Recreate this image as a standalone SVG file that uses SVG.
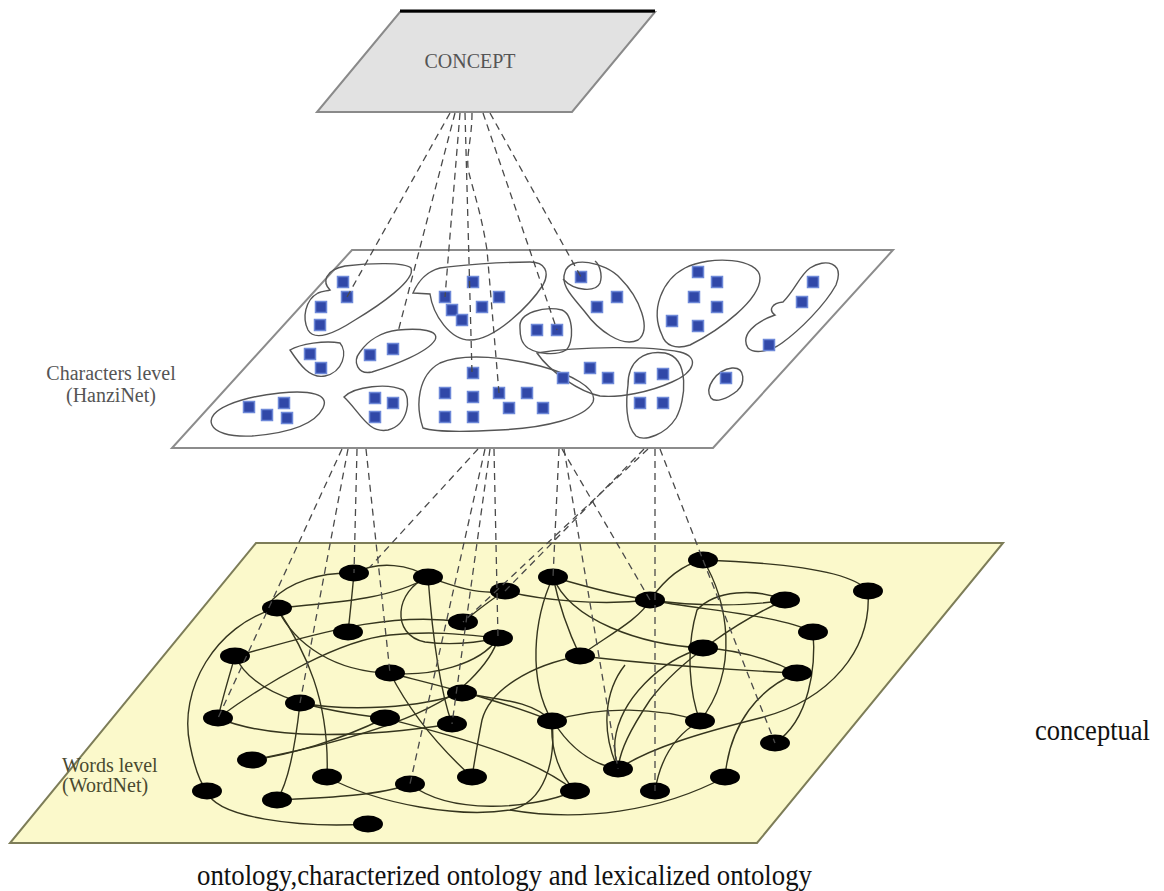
<svg xmlns="http://www.w3.org/2000/svg" width="1164" height="891" viewBox="0 0 1164 891">
<style>
.dash{fill:none;stroke:#4a4a4a;stroke-width:1.3;stroke-dasharray:7 5}
.link{fill:none;stroke:#35351e;stroke-width:1.4}
.blob{fill:none;stroke:#555;stroke-width:1.4}
.sq{fill:#3148a8;stroke:#6d88d8;stroke-width:1.5}
.node{fill:#000}
.lbl{font-family:"Liberation Serif","Times New Roman",serif;font-size:20px}
</style>
<defs>
<rect id="s" x="-5.5" y="-5.5" width="11" height="11"/>
<ellipse id="n" rx="15" ry="8.5"/>
</defs>
<rect width="1164" height="891" fill="#fff"/>

<g id="words-level">
<polygon points="256,543 1003,543 757,843 10,843" fill="#fbf9cb" stroke="#7d7d58" stroke-width="2"/>
<g id="word-links">
<path class="link" d="M354,573 C352,595 350,615 348,632"/>
<path class="link" d="M277,608 C215,625 178,690 190,745 C195,770 200,783 207,791"/>
<path class="link" d="M272,600 C290,582 320,572 354,573"/>
<path class="link" d="M277,608 C330,603 390,600 428,577"/>
<path class="link" d="M428,577 C395,590 390,635 425,642 C455,646 480,642 498,638"/>
<path class="link" d="M428,577 C432,630 440,690 452,724"/>
<path class="link" d="M277,608 C295,645 335,672 390,673"/>
<path class="link" d="M277,608 C305,650 330,700 327,777"/>
<path class="link" d="M235,656 C228,680 222,700 218,718"/>
<path class="link" d="M235,656 C255,700 330,712 385,718"/>
<path class="link" d="M218,718 C270,680 340,640 390,635 C440,630 475,636 498,638"/>
<path class="link" d="M218,718 C270,740 360,738 452,724"/>
<path class="link" d="M300,703 C296,740 290,780 277,800"/>
<path class="link" d="M300,703 C350,712 420,708 462,693"/>
<path class="link" d="M390,673 C410,712 440,748 472,777"/>
<path class="link" d="M390,673 C440,686 500,700 552,721"/>
<path class="link" d="M252,760 C330,745 430,720 470,680 C488,662 495,650 498,638"/>
<path class="link" d="M207,791 C215,818 300,828 368,824"/>
<path class="link" d="M277,800 C320,798 380,796 410,784"/>
<path class="link" d="M327,777 C380,805 460,818 510,810 C545,803 556,760 552,721"/>
<path class="link" d="M553,577 C533,620 528,680 552,721"/>
<path class="link" d="M553,577 C560,610 570,635 580,656"/>
<path class="link" d="M463,622 C478,610 490,600 505,591"/>
<path class="link" d="M498,638 C480,665 430,677 390,673"/>
<path class="link" d="M505,591 C540,600 600,606 650,600"/>
<path class="link" d="M580,656 C530,665 490,690 482,720 C477,745 474,765 472,777"/>
<path class="link" d="M552,721 C550,750 560,775 575,791"/>
<path class="link" d="M575,791 C530,810 450,815 410,784"/>
<path class="link" d="M428,577 C450,585 480,596 505,591"/>
<path class="link" d="M354,573 C380,560 410,565 428,577"/>
<path class="link" d="M252,760 C290,755 340,740 385,718"/>
<path class="link" d="M385,718 C450,735 530,755 575,791"/>
<path class="link" d="M462,693 C500,700 530,700 552,721"/>
<path class="link" d="M235,656 C300,640 380,610 463,622"/>
<path class="link" d="M703,560 C760,562 850,568 868,591"/>
<path class="link" d="M868,591 C872,650 830,700 760,718 C700,733 650,748 618,769"/>
<path class="link" d="M703,560 C680,565 662,583 650,600"/>
<path class="link" d="M703,560 C728,600 740,670 700,721"/>
<path class="link" d="M650,600 C700,607 750,606 785,600"/>
<path class="link" d="M650,600 C700,610 780,615 813,632"/>
<path class="link" d="M785,600 C755,588 715,590 697,610 C685,650 690,695 700,721"/>
<path class="link" d="M813,632 C816,665 810,720 775,743"/>
<path class="link" d="M703,648 C660,660 620,700 615,740 C614,752 616,762 618,769"/>
<path class="link" d="M703,648 C740,650 772,660 797,673"/>
<path class="link" d="M580,656 C650,664 730,670 797,673"/>
<path class="link" d="M797,673 C760,688 730,722 725,777"/>
<path class="link" d="M700,721 C675,735 660,760 655,791"/>
<path class="link" d="M700,721 C660,708 600,705 553,721"/>
<path class="link" d="M618,769 C590,764 568,745 553,721"/>
<path class="link" d="M510,810 C580,822 660,812 725,777"/>
<path class="link" d="M618,769 C600,730 605,690 625,665"/>
<path class="link" d="M553,577 C570,620 640,645 703,648"/>
<path class="link" d="M553,577 C590,588 620,596 650,600"/>
<path class="link" d="M785,600 C740,620 680,660 650,700 C630,730 620,750 618,769"/>
<path class="link" d="M580,656 C600,640 640,620 650,600"/>
</g>
<g id="word-nodes">
<use href="#n" class="node" x="354" y="573"/>
<use href="#n" class="node" x="428" y="577"/>
<use href="#n" class="node" x="553" y="577"/>
<use href="#n" class="node" x="703" y="560"/>
<use href="#n" class="node" x="505" y="591"/>
<use href="#n" class="node" x="868" y="591"/>
<use href="#n" class="node" x="277" y="608"/>
<use href="#n" class="node" x="463" y="622"/>
<use href="#n" class="node" x="650" y="600"/>
<use href="#n" class="node" x="785" y="600"/>
<use href="#n" class="node" x="348" y="632"/>
<use href="#n" class="node" x="498" y="638"/>
<use href="#n" class="node" x="813" y="632"/>
<use href="#n" class="node" x="235" y="656"/>
<use href="#n" class="node" x="580" y="656"/>
<use href="#n" class="node" x="703" y="648"/>
<use href="#n" class="node" x="390" y="673"/>
<use href="#n" class="node" x="797" y="673"/>
<use href="#n" class="node" x="462" y="693"/>
<use href="#n" class="node" x="218" y="718"/>
<use href="#n" class="node" x="300" y="703"/>
<use href="#n" class="node" x="385" y="718"/>
<use href="#n" class="node" x="452" y="724"/>
<use href="#n" class="node" x="552" y="721"/>
<use href="#n" class="node" x="700" y="721"/>
<use href="#n" class="node" x="775" y="743"/>
<use href="#n" class="node" x="252" y="760"/>
<use href="#n" class="node" x="327" y="777"/>
<use href="#n" class="node" x="472" y="777"/>
<use href="#n" class="node" x="410" y="784"/>
<use href="#n" class="node" x="618" y="769"/>
<use href="#n" class="node" x="725" y="777"/>
<use href="#n" class="node" x="207" y="791"/>
<use href="#n" class="node" x="277" y="800"/>
<use href="#n" class="node" x="575" y="791"/>
<use href="#n" class="node" x="655" y="791"/>
<use href="#n" class="node" x="368" y="824"/>
</g>
<text class="lbl" x="62" y="772" fill="#4a4a30">Words level</text>
<text class="lbl" x="62" y="792" fill="#4a4a30">(WordNet)</text>
</g>

<g id="characters-level">
<polygon points="352,250 893,250 713,448 172,448" fill="#fff" stroke="#8c8c8c" stroke-width="2"/>
<g id="char-groups">
<path class="blob" d="M330,290 C322,282 325,270 345,266 C370,263 405,262 411,268 C416,280 380,305 355,320 C335,333 315,342 308,330 C302,318 305,300 318,293 C322,291 327,291 330,290 Z"/>
<path class="blob" d="M290,350 C300,344 325,340 340,343 C348,352 343,372 325,376 C310,379 300,365 290,350 Z"/>
<path class="blob" d="M398,330 C420,328 440,330 435,340 C428,352 395,365 372,372 C358,375 352,362 360,352 C368,340 382,332 398,330 Z"/>
<path class="blob" d="M212,425 C205,410 240,397 280,393 C310,390 330,394 323,408 C315,424 290,433 252,436 C228,437 215,432 212,425 Z"/>
<path class="blob" d="M344,397 C355,386 388,383 403,390 C412,398 408,425 388,430 C368,434 360,412 344,397 Z"/>
<path class="blob" d="M413,293 L430,294 C433,315 450,340 470,340 C495,340 530,305 543,285 C550,272 545,262 530,262 C500,262 460,265 440,268 C425,272 418,282 413,293 Z"/>
<path class="blob" d="M520,328 C518,312 545,306 562,310 C574,315 574,344 566,350 C556,356 538,354 528,348 C521,343 520,336 520,328 Z"/>
<path class="blob" d="M423,428 C415,405 418,375 440,363 C465,352 510,358 540,366 C570,374 598,388 593,402 C585,418 545,428 500,430 C465,432 435,432 423,428 Z"/>
<path class="blob" d="M565,272 C570,255 605,262 620,278 C640,298 652,330 638,340 C622,348 598,330 585,312 C572,296 560,285 565,272 Z"/>
<path class="blob" d="M563,279 C575,292 596,292 600,283 C603,274 599,264 595,261"/>
<path class="blob" d="M662,335 C650,310 662,280 685,268 C710,255 760,258 760,278 C760,300 720,330 690,345 C675,350 665,345 662,335 Z"/>
<path class="blob" d="M748,348 C740,335 755,322 775,315 C768,310 772,303 783,302 C795,290 800,275 810,268 C825,258 845,262 836,285 C825,305 800,330 782,343 C770,352 754,354 748,348 Z"/>
<path class="blob" d="M711,398 C704,388 716,370 732,368 C746,367 745,384 737,391 C727,399 715,403 711,398 Z"/>
<path class="blob" d="M537,353 C580,346 650,346 680,352 C700,357 695,372 672,382 C650,392 620,398 600,396 C580,392 550,372 537,353 Z"/>
<path class="blob" d="M628,385 C628,360 645,350 665,353 C690,358 686,400 676,418 C666,434 645,442 636,436 C625,425 626,400 628,385 Z"/>
</g>
<g id="characters">
<use href="#s" class="sq" x="343" y="282"/><use href="#s" class="sq" x="347" y="297"/><use href="#s" class="sq" x="321" y="307"/><use href="#s" class="sq" x="320" y="325"/>
<use href="#s" class="sq" x="310" y="354"/><use href="#s" class="sq" x="321" y="368"/>
<use href="#s" class="sq" x="370" y="355"/><use href="#s" class="sq" x="393" y="349"/>
<use href="#s" class="sq" x="249" y="407"/><use href="#s" class="sq" x="284" y="403"/><use href="#s" class="sq" x="267" y="415"/><use href="#s" class="sq" x="287" y="418"/>
<use href="#s" class="sq" x="375" y="398"/><use href="#s" class="sq" x="393" y="403"/><use href="#s" class="sq" x="375" y="417"/>
<use href="#s" class="sq" x="473" y="282"/><use href="#s" class="sq" x="445" y="297"/><use href="#s" class="sq" x="499" y="297"/><use href="#s" class="sq" x="452" y="310"/><use href="#s" class="sq" x="482" y="307"/><use href="#s" class="sq" x="462" y="320"/>
<use href="#s" class="sq" x="537" y="330"/><use href="#s" class="sq" x="557" y="330"/>
<use href="#s" class="sq" x="473" y="373"/><use href="#s" class="sq" x="445" y="393"/><use href="#s" class="sq" x="473" y="397"/><use href="#s" class="sq" x="499" y="393"/><use href="#s" class="sq" x="527" y="393"/><use href="#s" class="sq" x="509" y="408"/><use href="#s" class="sq" x="543" y="408"/><use href="#s" class="sq" x="445" y="417"/><use href="#s" class="sq" x="473" y="417"/><use href="#s" class="sq" x="563" y="378"/>
<use href="#s" class="sq" x="581" y="277"/><use href="#s" class="sq" x="617" y="297"/><use href="#s" class="sq" x="597" y="307"/>
<use href="#s" class="sq" x="698" y="272"/><use href="#s" class="sq" x="717" y="282"/><use href="#s" class="sq" x="694" y="297"/><use href="#s" class="sq" x="717" y="307"/><use href="#s" class="sq" x="672" y="321"/><use href="#s" class="sq" x="698" y="326"/>
<use href="#s" class="sq" x="813" y="282"/><use href="#s" class="sq" x="802" y="302"/><use href="#s" class="sq" x="769" y="345"/>
<use href="#s" class="sq" x="590" y="368"/><use href="#s" class="sq" x="608" y="378"/><use href="#s" class="sq" x="640" y="378"/><use href="#s" class="sq" x="663" y="374"/><use href="#s" class="sq" x="640" y="403"/><use href="#s" class="sq" x="663" y="403"/>
<use href="#s" class="sq" x="726" y="378"/>
</g>
<text class="lbl" x="111" y="380" text-anchor="middle" fill="#555">Characters level</text>
<text class="lbl" x="111" y="402" text-anchor="middle" fill="#555">(HanziNet)</text>
</g>

<g id="concept">
<polygon points="400,12 655,12 572,112 317,112" fill="#e2e2e2" stroke="#8a8a8a" stroke-width="2"/>
<line x1="400" y1="11" x2="655" y2="11" stroke="#000" stroke-width="3"/>
<text class="lbl" x="470" y="68" text-anchor="middle" fill="#555">CONCEPT</text>
</g>

<g id="connectors">
<path class="dash" d="M450,113 L347,297"/>
<path class="dash" d="M455,113 L398,332"/>
<path class="dash" d="M460,113 L445,297"/>
<path class="dash" d="M465,113 L472,373"/>
<path class="dash" d="M472,113 C472,140 465,158 469,173 C473,190 481,212 487,250 L499,393"/>
<path class="dash" d="M483,113 L557,330"/>
<path class="dash" d="M490,113 L581,277"/>
<path class="dash" d="M342,449 L218,718"/>
<path class="dash" d="M348,449 L300,703"/>
<path class="dash" d="M357,449 L354,573"/>
<path class="dash" d="M366,449 L390,673"/>
<path class="dash" d="M478,449 L370,567"/>
<path class="dash" d="M485,449 L410,784"/>
<path class="dash" d="M490,449 L452,724"/>
<path class="dash" d="M494,449 L498,638"/>
<path class="dash" d="M559,449 L553,577"/>
<path class="dash" d="M562,449 L650,600"/>
<path class="dash" d="M564,449 L618,769"/>
<path class="dash" d="M644,449 L505,591"/>
<path class="dash" d="M648,449 L463,622"/>
<path class="dash" d="M655,449 L655,791"/>
<path class="dash" d="M660,449 L703,560"/>
<path class="dash" d="M703,560 L775,743"/>
</g>

<text class="lbl" x="1035" y="740" textLength="115" lengthAdjust="spacingAndGlyphs" fill="#111" style="font-size:30px">conceptual</text>
<text class="lbl" x="197" y="885" textLength="615" lengthAdjust="spacingAndGlyphs" fill="#111" style="font-size:30px">ontology,characterized ontology and lexicalized ontology</text>
</svg>
